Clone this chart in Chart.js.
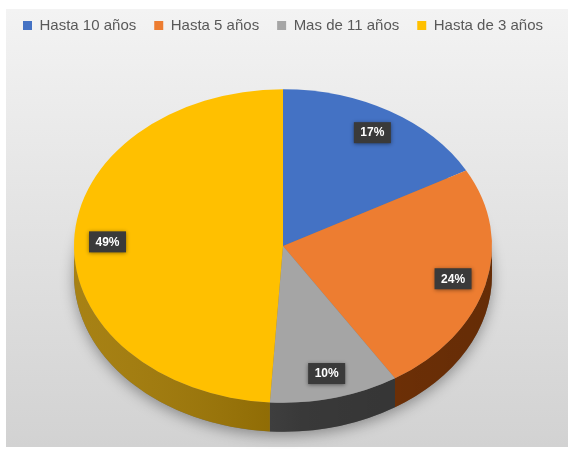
<!DOCTYPE html>
<html>
<head>
<meta charset="utf-8">
<script src="https://cdn.jsdelivr.net/npm/chart.js@4/dist/chart.umd.min.js"></script>
<style>
  html, body { margin: 0; padding: 0; background: #ffffff; }
  canvas { display: block; }
</style>
</head>
<body>
<canvas id="chart" width="570" height="449"></canvas>
<script>
// Antigüedad: share of each group (percent)
const categories = ['Hasta 10 años', 'Hasta 5 años', 'Mas de 11 años', 'Hasta de 3 años'];
const shares = [17, 24, 10, 49];
const topColors = ['#4472c4', '#ed7d31', '#a5a5a5', '#ffc000'];
const sideColors = ['#2c4f8c', '#853a08', '#424242', '#a07700'];

// 3D look: vertical squash of the pie face and thickness of the rim
const TILT = 0.75;
const DEPTH = 29;
const LABEL_POS = 0.84;

const background = {
  id: 'background',
  beforeDraw(chart) {
    const { ctx, width, height } = chart;
    ctx.save();
    ctx.fillStyle = '#ffffff';
    ctx.fillRect(0, 0, width, height);
    const g = ctx.createLinearGradient(0, 9, 0, height - 2);
    g.addColorStop(0, '#f3f3f3');
    g.addColorStop(0.45, '#e4e4e4');
    g.addColorStop(1, '#d2d2d2');
    ctx.fillStyle = g;
    ctx.fillRect(6, 9, width - 8, height - 11);
    ctx.restore();
  }
};

const tiltedPie = {
  id: 'tiltedPie',
  beforeDatasetDraw(chart, args) {
    const { ctx } = chart;
    const arcs = args.meta.data;
    if (!arcs.length) return;
    const { x: cx, y: cy, outerRadius: R } = arcs[0].getProps(['x', 'y', 'outerRadius'], true);
    const ry = R * TILT;

    // soft shadow under the disc
    ctx.save();
    ctx.shadowColor = 'rgba(0,0,0,0.35)';
    ctx.shadowBlur = 14;
    ctx.shadowOffsetY = 4;
    ctx.fillStyle = '#777777';
    ctx.beginPath();
    ctx.ellipse(cx, cy + DEPTH, R, ry, 0, 0, Math.PI * 2);
    ctx.fill();
    ctx.restore();

    // rim: the front half of each slice edge
    const shade = ctx.createLinearGradient(cx - R, 0, cx + R, 0);
    shade.addColorStop(0, 'rgba(255,255,255,0.08)');
    shade.addColorStop(0.55, 'rgba(0,0,0,0.14)');
    shade.addColorStop(1, 'rgba(0,0,0,0.24)');
    arcs.forEach((arc, i) => {
      const { startAngle, endAngle } = arc.getProps(['startAngle', 'endAngle'], true);
      const s = Math.max(startAngle, 0);
      const e = Math.min(endAngle, Math.PI);
      if (s >= e) return;
      ctx.save();
      ctx.beginPath();
      ctx.ellipse(cx, cy, R, ry, 0, s, e);
      ctx.ellipse(cx, cy + DEPTH, R, ry, 0, e, s, true);
      ctx.closePath();
      ctx.fillStyle = sideColors[i];
      ctx.fill();
      ctx.fillStyle = shade;
      ctx.fill();
      ctx.restore();
    });

    // squash the face into an ellipse
    ctx.save();
    ctx.translate(cx, cy);
    ctx.scale(1, TILT);
    ctx.translate(-cx, -cy);
  },
  afterDatasetDraw(chart, args) {
    const { ctx } = chart;
    ctx.restore();
    const arcs = args.meta.data;
    const total = shares.reduce((a, b) => a + b, 0);
    ctx.save();
    ctx.font = 'bold 12px "Liberation Sans", Arial, sans-serif';
    ctx.textAlign = 'center';
    ctx.textBaseline = 'middle';
    arcs.forEach((arc, i) => {
      const { x: cx, y: cy, outerRadius: R, startAngle, endAngle } =
        arc.getProps(['x', 'y', 'outerRadius', 'startAngle', 'endAngle'], true);
      const mid = (startAngle + endAngle) / 2;
      const lx = cx + Math.cos(mid) * R * LABEL_POS;
      const ly = cy + Math.sin(mid) * R * LABEL_POS * TILT;
      const text = Math.round(shares[i] / total * 100) + '%';
      const w = 37, h = 21;
      ctx.save();
      ctx.shadowColor = 'rgba(0,0,0,0.45)';
      ctx.shadowBlur = 4;
      ctx.shadowOffsetY = 1;
      ctx.fillStyle = '#3a3a3a';
      ctx.fillRect(lx - w / 2, ly - h / 2, w, h);
      ctx.restore();
      ctx.fillStyle = '#ffffff';
      ctx.fillText(text, lx, ly + 0.5);
    });
    ctx.restore();
  }
};

new Chart(document.getElementById('chart'), {
  type: 'pie',
  data: {
    labels: categories,
    datasets: [{
      data: shares,
      backgroundColor: topColors,
      borderWidth: 0
    }]
  },
  options: {
    responsive: false,
    devicePixelRatio: 1,
    animation: false,
    radius: 209,
    layout: { padding: { top: 0, right: 4, bottom: -4, left: 0 } },
    plugins: {
      tooltip: { enabled: false },
      legend: {
        position: 'top',
        labels: {
          boxWidth: 9,
          boxHeight: 9,
          padding: 18,
          color: '#595959',
          font: { family: '"Liberation Sans", Arial, sans-serif', size: 15 }
        }
      }
    }
  },
  plugins: [background, tiltedPie]
});
</script>
</body>
</html>
